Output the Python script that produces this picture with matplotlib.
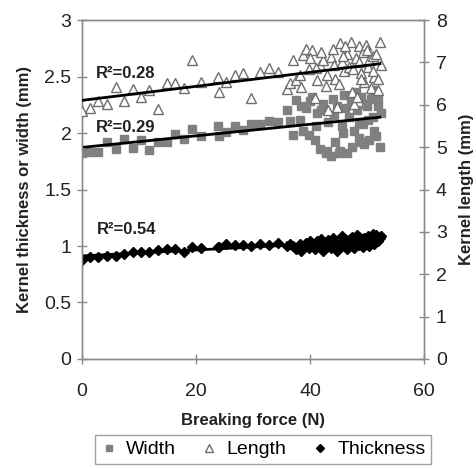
import numpy as np
import matplotlib
matplotlib.use("Agg")
import matplotlib.pyplot as plt
from matplotlib.ticker import FuncFormatter
from matplotlib.lines import Line2D

plt.rcParams['font.family'] = ['Liberation Sans', 'DejaVu Sans']

# Breaking force (N) of each kernel and its measured dimensions (mm)
force = [0.0, 1.4, 2.9, 4.4, 5.9, 7.4, 8.9, 10.4, 11.8, 13.3, 15.0, 16.4, 17.9,
         19.3, 20.8, 23.8, 24.1, 25.3, 26.8, 28.2, 29.7, 31.2, 32.8, 34.3, 35.9, 36.5,
         37.0, 37.6, 38.2, 38.8, 39.3, 39.8, 40.3, 40.8, 41.3, 41.8, 42.3, 42.8, 43.2,
         43.6, 44.0, 44.4, 44.8, 45.2, 45.6, 46.0, 46.4, 46.8, 47.1, 47.4, 47.7, 48.0,
         48.3, 48.6, 48.9, 49.2, 49.5, 49.8, 50.1, 50.4, 50.7, 51.0, 51.3, 51.6, 51.9,
         52.2, 52.5, 38.5, 40.0, 41.0, 42.0, 43.0, 44.2, 45.0, 46.2, 47.5, 48.5, 49.0,
         50.0, 51.0, 52.0, 45.8]

width = [1.82, 1.835, 1.83, 1.92, 1.86, 1.95, 1.865, 1.94, 1.85, 1.92, 1.92, 1.99, 1.95,
         2.04, 1.97, 2.06, 1.97, 2.01, 2.06, 2.03, 2.08, 2.08, 2.11, 2.10, 2.20, 2.11,
         1.98, 2.29, 2.12, 2.02, 2.22, 1.98, 2.32, 1.94, 2.18, 1.86, 2.26, 1.82, 2.10,
         1.80, 2.30, 1.92, 2.24, 1.84, 2.06, 2.34, 1.82, 2.14, 2.28, 1.88, 2.02, 2.36,
         2.20, 1.96, 2.32, 2.08, 1.90, 2.26, 2.12, 1.94, 2.30, 2.38, 2.02, 1.97, 2.24,
         1.88, 2.18, 2.24, 2.28, 2.06, 2.20, 1.84, 2.16, 1.82, 2.22, 2.34, 2.10, 1.92,
         2.24, 2.14, 2.30, 2.00]

length = [5.85, 5.92, 6.08, 6.01, 6.42, 6.10, 6.37, 6.18, 6.34, 5.90, 6.52, 6.52, 6.40,
          7.05, 6.53, 6.65, 6.30, 6.53, 6.70, 6.74, 6.15, 6.78, 6.86, 6.78, 6.38, 6.52,
          7.05, 6.58, 6.70, 7.17, 7.33, 6.85, 7.29, 6.15, 6.58, 6.95, 7.05, 6.45, 5.87,
          7.13, 7.33, 6.62, 5.95, 7.45, 7.00, 6.80, 7.20, 6.90, 7.48, 6.30, 6.03, 7.10,
          6.19, 7.38, 6.75, 7.25, 6.55, 7.42, 6.90, 7.05, 6.40, 7.15, 6.65, 7.21, 6.34,
          7.48, 6.95, 6.42, 7.10, 6.88, 7.25, 6.70, 6.95, 6.50, 7.40, 6.85, 7.00, 6.60,
          7.30, 6.80, 6.60, 7.15]

thickness = [0.88, 0.90, 0.905, 0.91, 0.91, 0.93, 0.95, 0.945, 0.95, 0.965, 0.97, 0.97, 0.95,
             0.99, 0.98, 0.99, 0.99, 1.02, 1.01, 1.01, 1.00, 1.02, 1.01, 1.03, 1.00, 1.02,
             1.00, 0.97, 1.02, 0.99, 1.03, 0.98, 1.01, 0.97, 1.04, 1.00, 0.96, 1.02, 1.05,
             0.98, 1.07, 1.01, 0.96, 1.03, 1.09, 1.00, 0.97, 1.05, 1.02, 1.08, 0.98, 1.04,
             1.10, 1.01, 1.06, 0.99, 1.07, 1.03, 1.09, 1.00, 1.05, 1.08, 1.02, 1.10, 1.04,
             1.07, 1.09, 0.96, 1.04, 0.99, 1.06, 1.00, 1.03, 0.98, 1.06, 1.00, 1.08, 1.02,
             1.06, 1.11, 1.05, 1.04]

r2_labels = ["R\u00b2=0.28", "R\u00b2=0.29", "R\u00b2=0.54"]

force = np.array(force)
width = np.array(width)
length = np.array(length)
thickness = np.array(thickness)

gray = "#808080"
axis_gray = "#8a8a8a"
text_col = "#222222"

fig = plt.figure(figsize=(4.76, 4.68), dpi=100)
ax = fig.add_axes([0.172, 0.233, 0.719, 0.724])
ax2 = ax.twinx()

# scatter points
ax.plot(force, width, linestyle="none", marker="s", ms=5.5, mfc=gray, mec=gray, zorder=3)
ax2.plot(force, length, linestyle="none", marker="^", ms=6.5, mfc="white", mec="#6e6e6e",
         mew=1.0, zorder=3)
ax.plot(force, thickness, linestyle="none", marker="D", ms=5, mfc="black", mec="black", zorder=4)

# linear trend lines
xfit = np.array([0.0, force.max()])
for axis, y in ((ax, width), (ax2, length), (ax, thickness)):
    k, b = np.polyfit(force, y, 1)
    axis.plot(xfit, k * xfit + b, color="black", lw=2, zorder=5, solid_capstyle="butt")

ax.set_xlim(0, 60)
ax.set_ylim(0, 3)
ax2.set_ylim(0, 8)
ax.set_xticks([0, 20, 40, 60])
ax.set_yticks([0, 0.5, 1, 1.5, 2, 2.5, 3])
ax2.set_yticks(range(0, 9))
fmt = FuncFormatter(lambda v, p: f"{v:g}")
ax.yaxis.set_major_formatter(fmt)
ax2.yaxis.set_major_formatter(fmt)

for a in (ax, ax2):
    for s in a.spines.values():
        s.set_color(axis_gray)
        s.set_linewidth(1.0)
    a.tick_params(direction="inout", length=7, width=1.0, color=axis_gray,
                  labelsize=14, labelcolor=text_col)
ax.tick_params(axis="x", pad=14)
ax.tick_params(axis="y", pad=4)
ax2.tick_params(axis="y", pad=5)

ax.set_xlabel("Breaking force (N)", fontsize=12, fontweight="bold", color=text_col, labelpad=9)
ax.set_ylabel("Kernel thickness or width (mm)", fontsize=12, fontweight="bold",
              color=text_col, labelpad=9)
ax2.set_ylabel("Kernel length (mm)", fontsize=12, fontweight="bold", color=text_col, labelpad=9)

ax.text(2.5, 2.53, r2_labels[0], fontsize=12, fontweight="bold", va="center", color=text_col)
ax.text(2.5, 2.05, r2_labels[1], fontsize=12, fontweight="bold", va="center", color=text_col)
ax.text(2.7, 1.15, r2_labels[2], fontsize=12, fontweight="bold", va="center", color=text_col)

handles = [
    Line2D([], [], linestyle="none", marker="s", ms=5, mfc=gray, mec=gray),
    Line2D([], [], linestyle="none", marker="^", ms=6, mfc="white", mec="#6e6e6e"),
    Line2D([], [], linestyle="none", marker="D", ms=4.5, mfc="black", mec="black"),
]
leg = fig.legend(handles, ["Width", "Length", "Thickness"], loc="lower center",
                 bbox_to_anchor=(0.553, 0.008), ncol=3, fontsize=14, frameon=True,
                 fancybox=False, edgecolor=axis_gray, handlelength=0.8, handletextpad=0.5,
                 columnspacing=1.3, borderpad=0.3, borderaxespad=0)
leg.get_frame().set_linewidth(1.0)

fig.savefig("out.png", dpi=100)
